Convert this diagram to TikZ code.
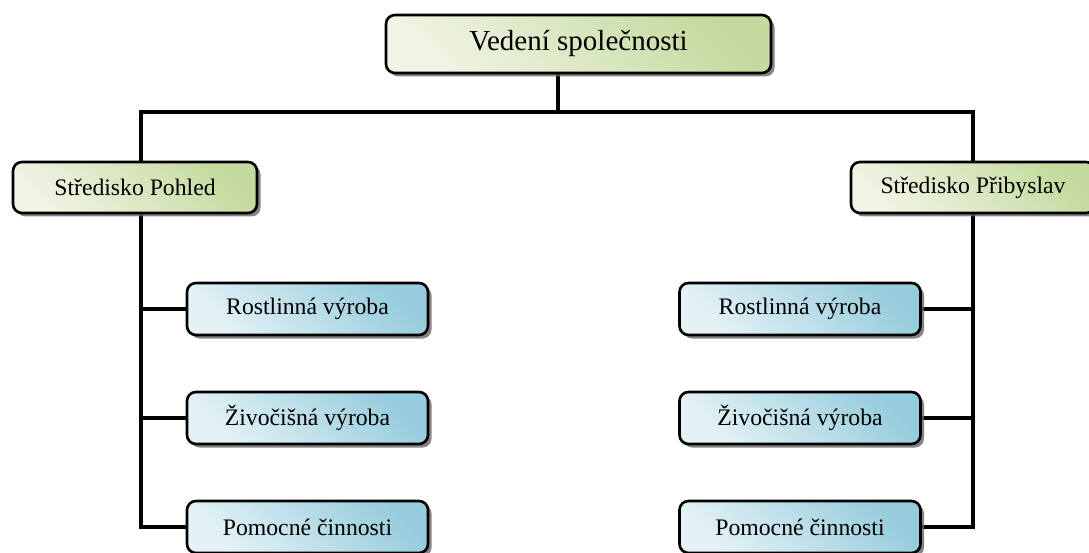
\documentclass[tikz,border=0pt]{standalone}
\usepackage{fontspec}
\setmainfont{Liberation Serif}
\usetikzlibrary{shadows,backgrounds}
\definecolor{cgreenlo}{RGB}{240,244,228}
\definecolor{cgreenhi}{RGB}{196,218,158}
\definecolor{cbluelo}{RGB}{228,242,246}
\definecolor{cbluehi}{RGB}{150,204,220}
\newcommand{\unitsize}{\fontsize{23.7}{28}\selectfont}

\begin{document}
\begin{tikzpicture}[x=1pt, y=-1pt, line join=miter,
  box/.style={draw=black, line width=2.6pt, rounded corners=9pt,
    drop shadow={shadow xshift=3.5pt, shadow yshift=-3.5pt, fill=black!60, opacity=.8},
    inner sep=0pt, font=\unitsize},
  headbox/.style={box, top color=cgreenlo, bottom color=cgreenhi, shading angle=135,
    minimum width=244pt, minimum height=51pt},
  unitbox/.style={box, top color=cbluelo, bottom color=cbluehi, shading angle=135,
    minimum width=241pt, minimum height=52pt},
  conn/.style={line width=4.6pt}]
\useasboundingbox (0,0) rectangle (1089,553);
\coordinate (hub) at (558,112);
\coordinate (hl)  at (141,112);
\coordinate (hr)  at (973,112);
% nodes
\node[box, top color=cgreenlo, bottom color=cgreenhi, shading angle=135,
  minimum width=385pt, minimum height=58pt, font=\fontsize{29}{34}\selectfont]
  (top) at (578.5,44) {Vedení společnosti};
\node[headbox] (pohled)   at (135,187.5) {Středisko Pohled};
\node[headbox] (pribyslav) at (973,187.5) {Středisko Přibyslav};
\node[unitbox] (pl1) at (307.5,309) {Rostlinná výroba};
\node[unitbox] (pl2) at (307.5,418) {Živočišná výroba};
\node[unitbox] (pl3) at (307.5,527) {Pomocné činnosti};
\node[unitbox] (pr1) at (800,309) {Rostlinná výroba};
\node[unitbox] (pr2) at (800,418) {Živočišná výroba};
\node[unitbox] (pr3) at (800,527) {Pomocné činnosti};
% connectors
\begin{pgfonlayer}{background}
\draw[conn] (top.south -| hub) -- (hub);
\draw[conn] (pl3.west) -| (hl) -- (hr) |- (pr3.east);
\draw[conn] (pl1.west) -- (pl1.west -| hl);
\draw[conn] (pl2.west) -- (pl2.west -| hl);
\draw[conn] (pr1.east) -- (pr1.east -| hr);
\draw[conn] (pr2.east) -- (pr2.east -| hr);
\end{pgfonlayer}
\end{tikzpicture}
\end{document}
